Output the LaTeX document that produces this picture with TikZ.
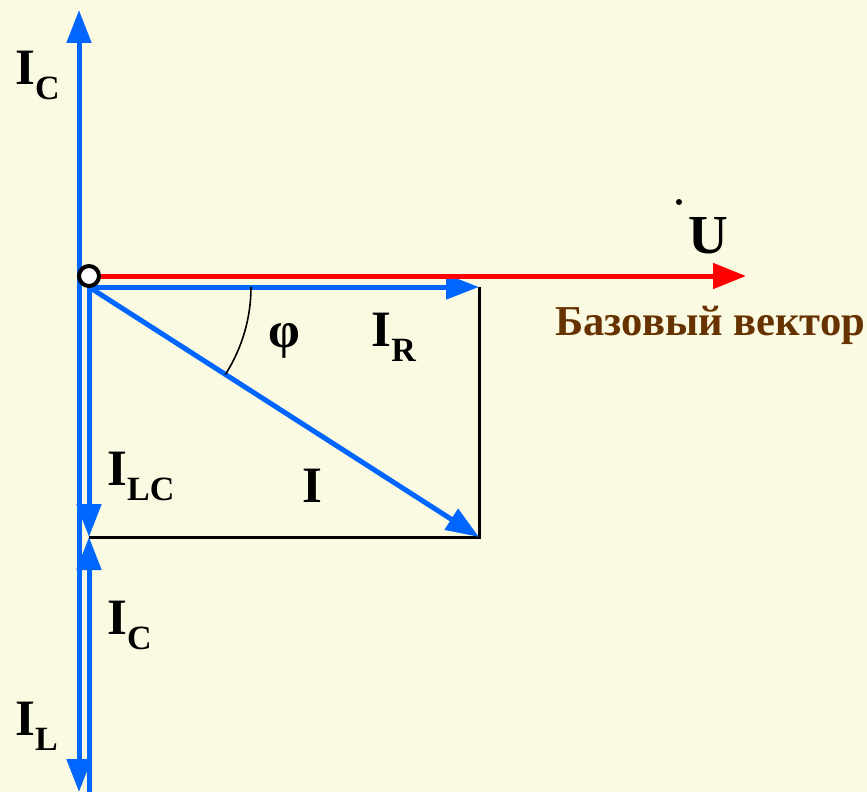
\documentclass[tikz,border=0pt]{standalone}
\usepackage{fontspec}
\setmainfont{Liberation Serif}
\usetikzlibrary{arrows.meta}
\definecolor{fondo}{RGB}{250,250,227}
\definecolor{azul}{RGB}{0,102,255}
\definecolor{rojo}{RGB}{255,0,0}
\definecolor{marron}{RGB}{102,51,0}
\newcommand{\corriente}[1]{I\raisebox{-7.5pt}{\fontsize{17}{20}\selectfont #1}}
\tikzset{
  vec/.style={azul, line width=2.5pt, -{Triangle[length=16.5pt,width=12pt]}},
  lbl/.style={anchor=base west, inner sep=0pt, font=\fontsize{25.5}{30}\selectfont\bfseries},
}
\begin{document}
\begin{tikzpicture}[x=0.5pt,y=-0.5pt]
    \fill[fondo] (0,0) rectangle (867,792);
    \useasboundingbox (0,0) rectangle (867,792);
    % Puntos
    \coordinate (O) at (89,276);
    \coordinate (U) at (746,276);
    \coordinate (C0) at (79,276);
    \coordinate (Ctop) at (79,10);
    \coordinate (Lbot) at (79,792);
    \coordinate (A) at (89,287);
    \coordinate (R) at (479,287);
    \coordinate (P) at (479,537);
    \coordinate (Q) at (89,537);
    \coordinate (B) at (89,792);
    % Rectángulo
    \draw[black, line width=1.5pt] (R) -- (P) -- (Q);
    % Vectores de corriente
    \draw[vec] (C0) -- (Ctop);
    \draw[vec] (C0) -- (Lbot);
    \draw[vec] (A) -- (R);
    \draw[vec] (A) -- (P);
    \draw[vec] (A) -- (Q);
    \draw[vec] (B) -- (Q);
    % Vector de tensión
    \draw[rojo, line width=2.5pt, -{Triangle[length=16.5pt,width=12.5pt]}] (O) -- (U);
    \draw[black, line width=2pt, fill=white] (O) circle[radius=5pt];
    % Ángulo
    \draw[black, line width=0.8pt] ([xshift=81pt]A) arc[start angle=0, end angle=-32.7, radius=81pt];
    % Etiquetas
    \node[lbl] (lC) at (15,85) {\corriente{C}};
    \node[lbl] (lL) at (15,735) {\corriente{L}};
    \node[lbl] (lLC) at (107,485) {\corriente{LC}};
    \node[lbl] (lC2) at (107,634) {\corriente{C}};
    \node[lbl] (lI) at (302,502) {I};
    \node[lbl] (lR) at (371,346) {\corriente{R}};
    \node[lbl] (lphi) at (268,347) {φ};
    \node[lbl, font=\fontsize{27.5}{32}\selectfont\bfseries] (lU) at (688,253) {U};
    \fill[black] (679,202) circle[radius=1.5pt];
    \node[lbl, font=\fontsize{21.3}{25}\selectfont\bfseries, text=marron] (base) at (555,335) {Базовый вектор};
\end{tikzpicture}
\end{document}
